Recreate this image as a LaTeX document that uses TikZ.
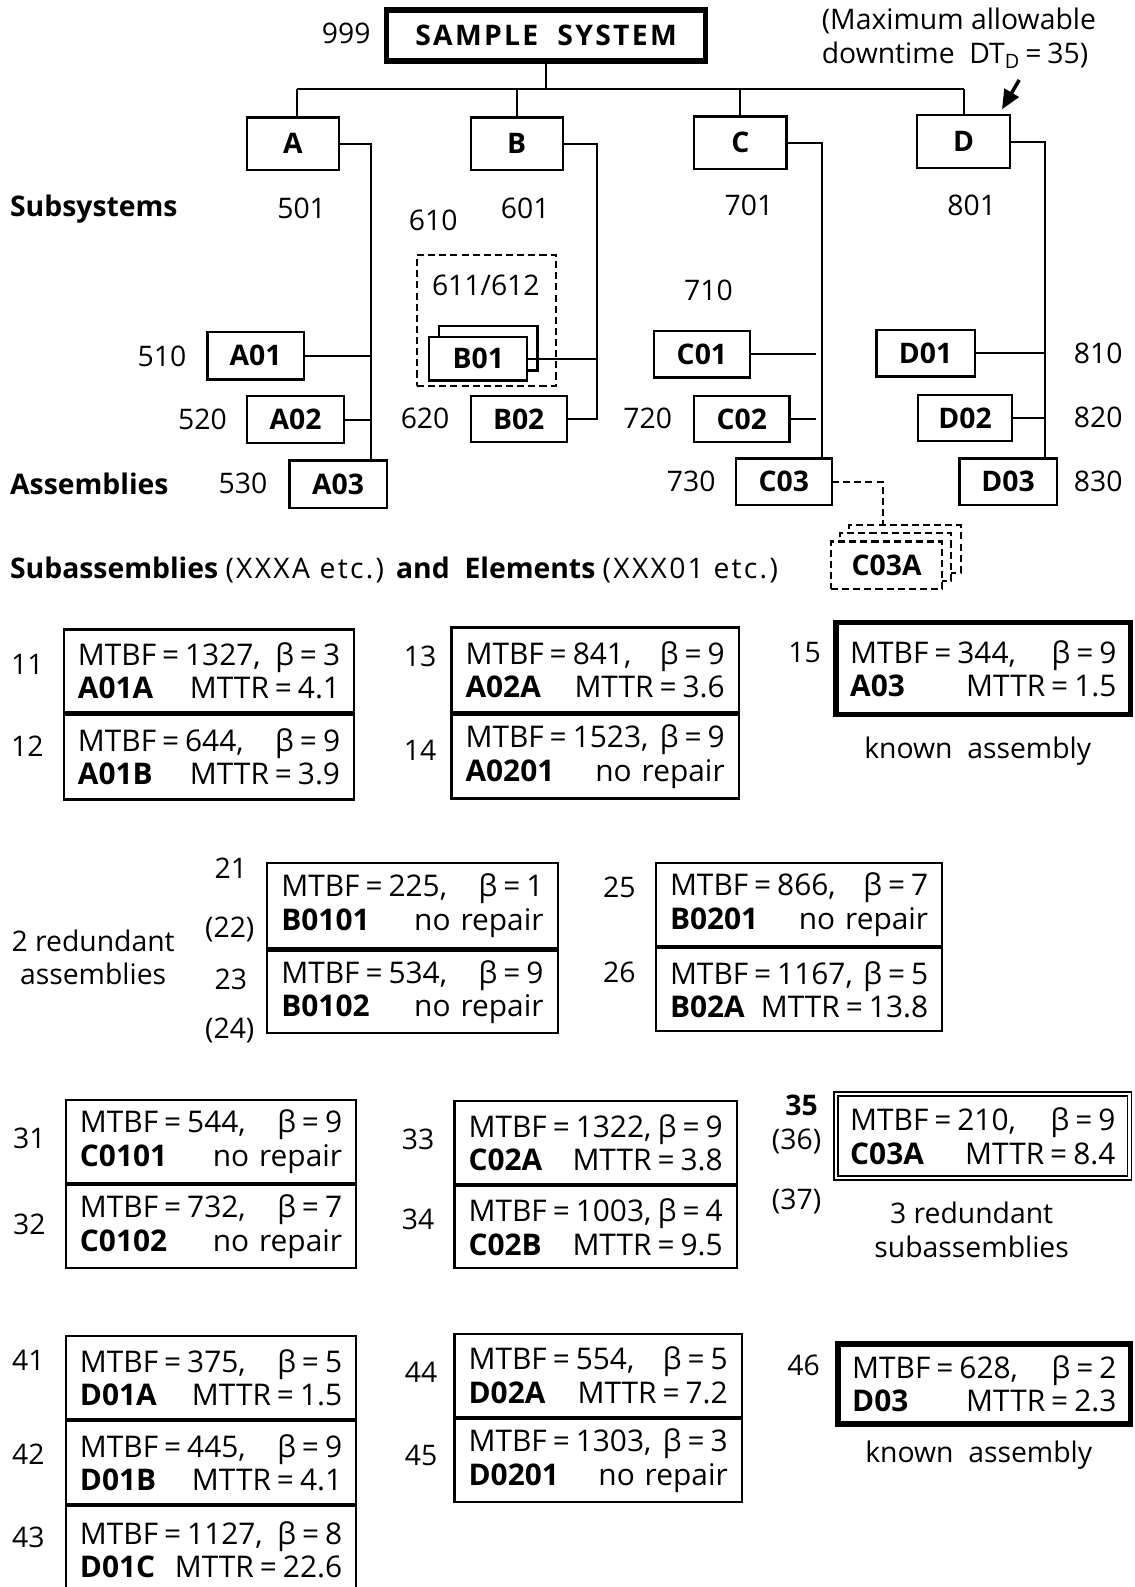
\documentclass[tikz,border=0pt]{standalone}
\usepackage{fontspec}
\setmainfont{Open Sans}
\usetikzlibrary{fit,arrows.meta}
\tikzset{
  every node/.style={font=\fontsize{28}{33}\selectfont, inner sep=0pt, outer sep=0pt},
  bx/.style={draw, line width=2.2pt, fill=white},
  bxthick/.style={draw, line width=5.5pt, fill=white},
  bxdouble/.style={draw, double, double distance=2.5pt, line width=1.5pt},
  dbx/.style={draw, line width=2pt, dash pattern=on 7pt off 4pt, fill=white},
  bold/.style={font=\fontsize{28}{33}\selectfont\bfseries},
  ptext/.style={font=\fontsize{29.5}{33}\selectfont},
  ln/.style={line width=2pt},
  dsh/.style={line width=2pt, dash pattern=on 7pt off 4pt},
}
\newcommand\eq{\kern0.2em=\kern0.2em}
\newcommand\wide[1]{{\addfontfeatures{LetterSpace=8}#1}}
% generic box: style, name, x1, y1, x2, y2, extra node options, text
\newcommand\gbox[8]{%
  \pgfmathsetmacro\cx{(#3+#5)/2}%
  \pgfmathsetmacro\cy{(#4+#6)/2}%
  \pgfmathsetmacro\ww{#5-#3}%
  \pgfmathsetmacro\hh{#6-#4}%
  \node[#1, minimum width=\ww pt, minimum height=\hh pt, #7] (#2) at (\cx,\cy) {#8};}
\newcommand\abox[6]{\gbox{bx}{#1}{#2}{#3}{#4}{#5}{bold}{#6}}
\newcommand\pbox[7]{%
  \pgfmathsetmacro\tw{#5-#3-28}%
  \gbox{#1}{#2}{#3}{#4}{#5}{#6}{ptext, text width=\tw pt, align=left}{#7}}
\begin{document}
\begin{tikzpicture}[x=1pt,y=-1pt]
\useasboundingbox (0,0) rectangle (1121,1568);

% ---------- top ----------
\gbox{bxthick}{sys}{382}{10}{697}{60}{font=\fontsize{28}{33}\selectfont\bfseries}{\wide{SAMPLE\ \ SYSTEM}}
\node (n999) at (342,33) {999};
\node[anchor=west, align=left] (hdr) at (812,38) {(Maximum allowable\\downtime\ \ DT\textsubscript{D}\eq 35)};

\abox{A}{244}{116}{335}{168}{A}
\abox{B}{465}{116}{556}{168}{B}
\abox{C}{686}{115}{777}{167}{C}
\abox{D}{906}{114}{998}{166}{D}

\coordinate (hL) at (293,88);
\coordinate (hR) at (952,88);
\draw[ln] (hL) -- (hR);
\draw[ln] (sys.south) -- (sys.south |- hL);
\draw[ln] (hL) -- (hL |- A.north);
\draw[ln] (B.north |- hL) -- (B.north);
\draw[ln] (C.north |- hL) -- (C.north);
\draw[ln] (hR) -- (hR |- D.north);

\coordinate (arS) at (1007,79);
\coordinate (arT) at (990,108);
\draw[line width=3.5pt, -{Triangle[length=19pt,width=16pt]}] (arS) -- (arT);

% subsystem labels
\node[bold, anchor=west] (lsub) at (10,207) {Subsystems};
\node (n501) at (298,206) {501};
\node (n610) at (428,218) {610};
\node (n601) at (519,206) {601};
\node (n701) at (740,203) {701};
\node (n801) at (960,203) {801};

% ---------- A ----------
\abox{A01}{205}{328}{300}{375}{A01}
\abox{A02}{244}{391}{340}{438}{A02}
\abox{A03}{286}{455}{382}{502}{A03}
\node (n510) at (160,352) {510};
\node (n520) at (200,414) {520};
\node (n530) at (240,478) {530};
\node[bold, anchor=west] (lass) at (10,478) {Assemblies};
\coordinate (Av) at (367,300);
\draw[ln] (A.east) -| (Av |- A03.north);
\draw[ln] (A01.east) -- (A01.east -| Av);
\draw[ln] (A02.east) -- (A02.east -| Av);

% ---------- B ----------
\node[dbx, fit={(412,252)(549,381)}, inner sep=0pt] (Bred) {};
\node (n611) at (480,282) {611/612};
\node[bx, fit={(434,322)(531,366)}, inner sep=0pt] (B01b) {};
\abox{B01}{424}{333}{521}{376}{B01}
\abox{B02}{465}{391}{560}{437}{B02}
\node (n620) at (420,413) {620};
\coordinate (Bv) at (590,300);
\draw[ln] (B.east) -| (Bv |- B02.east) -- (B02.east);
\draw[ln] (B01.east) -- (B01.east -| Bv);

% ---------- C ----------
\node (n710) at (700,287) {710};
\abox{C01}{646}{327}{741}{373}{C01}
\abox{C02}{686}{391}{780}{437}{C02}
\abox{C03}{727}{453}{822}{499}{C03}
\node (n720) at (640,413) {720};
\node (n730) at (683,476) {730};
\coordinate (Cv) at (812,300);
\coordinate (Cg) at (806,300);
\draw[ln] (C.east) -| (Cv |- C03.north);
\draw[ln] (C01.east) -- (C01.east -| Cg);
\draw[ln] (C02.east) -- (C02.east -| Cg);

\node[dbx, fit={(839,519)(949,566)}, inner sep=0pt] (C03Ac) {};
\node[dbx, fit={(830,527)(940,574)}, inner sep=0pt] (C03Ab) {};
\gbox{dbx}{C03A}{821}{535}{931}{582}{bold}{C03A}
\coordinate (cd) at (872,476);
\draw[dsh] (C03.east) -- (cd) -- (cd |- C03Ac.north);

% ---------- D ----------
\abox{D01}{866}{326}{963}{372}{D01}
\abox{D02}{907}{390}{1000}{436}{D02}
\abox{D03}{948}{453}{1044}{499}{D03}
\node (n810) at (1085,349) {810};
\node (n820) at (1085,412) {820};
\node (n830) at (1085,476) {830};
\coordinate (Dv) at (1032,300);
\draw[ln] (D.east) -| (Dv |- D03.north);
\draw[ln] (D01.east) -- (D01.east -| Dv);
\draw[ln] (D02.east) -- (D02.east -| Dv);

\node[anchor=west] (lsubass) at (10,563) {\textbf{Subassemblies} \wide{(XXXA etc.)} \textbf{and}\ \ \textbf{Elements} \wide{(XXX01 etc.)}};

% ---------- group 1 ----------
\pbox{bx}{p11}{63}{622}{350}{704}{MTBF\eq 1327,\hfill β\eq 3\\\textbf{A01A}\hfill MTTR\eq 4.1}
\pbox{bx}{p12}{63}{706}{350}{790}{MTBF\eq 644,\hfill β\eq 9\\\textbf{A01B}\hfill MTTR\eq 3.9}
\pbox{bx}{p13}{446}{620}{730}{704}{MTBF\eq 841,\hfill β\eq 9\\\textbf{A02A}\hfill MTTR\eq 3.6}
\pbox{bx}{p14}{446}{706}{730}{789}{MTBF\eq 1523,\hfill β\eq 9\\\textbf{A0201}\hfill no repair}
\pbox{bxthick}{p15}{826}{615}{1117}{706}{MTBF\eq 344,\hfill β\eq 9\\\textbf{A03}\hfill MTTR\eq 1.5}
\node (l11) at (27,656) {11};
\node (l12) at (27,737) {12};
\node (l13) at (415,649) {13};
\node (l14) at (415,741) {14};
\node (l15) at (795,645) {15};
\node (ka1) at (966,742) {known\ \ assembly};

% ---------- group 2 ----------
\pbox{bx}{p21}{264}{853}{551}{937}{MTBF\eq 225,\hfill β\eq 1\\\textbf{B0101}\hfill no repair}
\pbox{bx}{p23}{264}{939}{551}{1021}{MTBF\eq 534,\hfill β\eq 9\\\textbf{B0102}\hfill no repair}
\pbox{bx}{p25}{648}{853}{931}{935}{MTBF\eq 866,\hfill β\eq 7\\\textbf{B0201}\hfill no repair}
\pbox{bx}{p26}{648}{937}{931}{1019}{MTBF\eq 1167,\hfill β\eq 5\\\textbf{B02A}\hfill MTTR\eq 13.8}
\node (l21) at (228,858) {21};
\node (l22) at (227,918) {(22)};
\node (l23) at (228,968) {23};
\node (l24) at (227,1018) {(24)};
\node[align=center] (red2) at (92,946) {2 redundant\\assemblies};
\node (l25) at (612,877) {25};
\node (l26) at (612,961) {26};

% ---------- group 3 ----------
\pbox{bx}{p31}{65}{1087}{352}{1169}{MTBF\eq 544,\hfill β\eq 9\\\textbf{C0101}\hfill no repair}
\pbox{bx}{p32}{65}{1171}{352}{1253}{MTBF\eq 732,\hfill β\eq 7\\\textbf{C0102}\hfill no repair}
\pbox{bx}{p33}{449}{1088}{728}{1170}{MTBF\eq 1322,\hfill β\eq 9\\\textbf{C02A}\hfill MTTR\eq 3.8}
\pbox{bx}{p34}{449}{1172}{728}{1253}{MTBF\eq 1003,\hfill β\eq 4\\\textbf{C02B}\hfill MTTR\eq 9.5}
\pbox{bxdouble}{p35}{826}{1081}{1116}{1164}{MTBF\eq 210,\hfill β\eq 9\\\textbf{C03A}\hfill MTTR\eq 8.4}
\node (l31) at (29,1125) {31};
\node (l32) at (29,1210) {32};
\node (l33) at (413,1126) {33};
\node (l34) at (413,1205) {34};
\node[bold] (l35) at (792,1092) {35};
\node (l36) at (787,1128) {(36)};
\node (l37) at (787,1187) {(37)};
\node[align=center] (red3) at (960,1215) {3 redundant\\subassemblies};

% ---------- group 4 ----------
\pbox{bx}{p41}{65}{1320}{352}{1402}{MTBF\eq 375,\hfill β\eq 5\\\textbf{D01A}\hfill MTTR\eq 1.5}
\pbox{bx}{p42}{65}{1404}{352}{1486}{MTBF\eq 445,\hfill β\eq 9\\\textbf{D01B}\hfill MTTR\eq 4.1}
\pbox{bx}{p43}{65}{1488}{352}{1574}{MTBF\eq 1127,\hfill β\eq 8\\\textbf{D01C}\hfill MTTR\eq 22.6}
\pbox{bx}{p44}{449}{1318}{733}{1400}{MTBF\eq 554,\hfill β\eq 5\\\textbf{D02A}\hfill MTTR\eq 7.2}
\pbox{bx}{p45}{449}{1402}{733}{1484}{MTBF\eq 1303,\hfill β\eq 3\\\textbf{D0201}\hfill no repair}
\pbox{bxthick}{p46}{828}{1328}{1117}{1407}{MTBF\eq 628,\hfill β\eq 2\\\textbf{D03}\hfill MTTR\eq 2.3}
\node (l41) at (28,1344) {41};
\node (l42) at (28,1437) {42};
\node (l43) at (28,1519) {43};
\node (l44) at (416,1356) {44};
\node (l45) at (416,1438) {45};
\node (l46) at (794,1349) {46};
\node (ka2) at (967,1438) {known\ \ assembly};
\end{tikzpicture}
\end{document}
